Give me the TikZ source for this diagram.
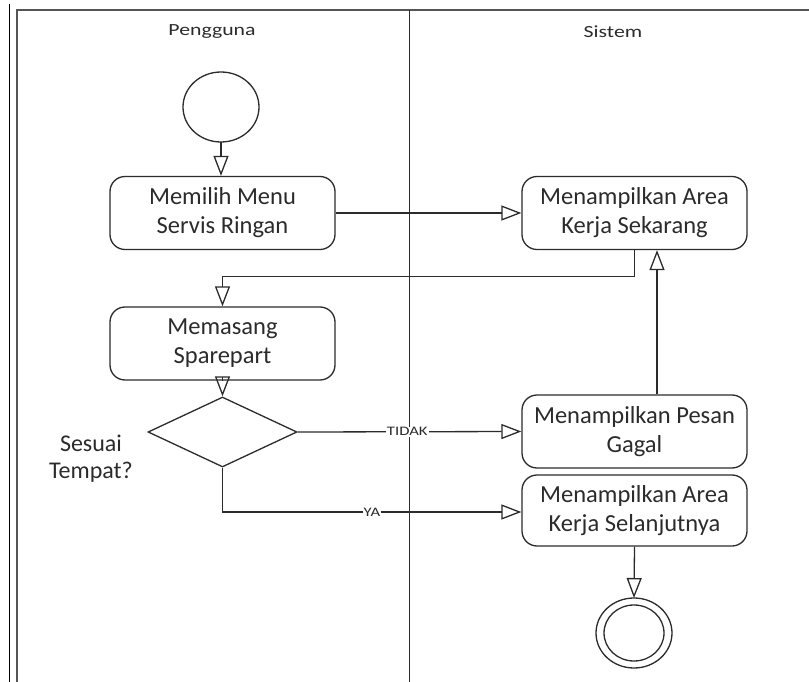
\documentclass[tikz,border=0pt]{standalone}
\usepackage{fontspec}
\setmainfont{Carlito}
\usetikzlibrary{arrows.meta,shapes.geometric}

\definecolor{ink}{HTML}{2B2B2B}
\definecolor{framegray}{HTML}{555555}

\newfontfamily\widefont[FakeStretch=1.28]{Carlito}

\tikzset{
  act/.style={draw=ink, line width=1.3pt, rounded corners=15pt, minimum width=225pt,
    minimum height=73pt, align=center, inner sep=0pt,
    font=\fontsize{24.5}{29}\selectfont, text=ink},
  flow/.style={draw=ink, line width=1.3pt,
    -{Triangle[open, length=20pt, width=15pt, line width=1.3pt]}},
  lanetitle/.style={font=\widefont\fontsize{17}{20}\selectfont, text=ink},
  guard/.style={font=\widefont\fontsize{13}{15}\selectfont, fill=white, inner sep=1pt, text=ink},
}

\begin{document}
\begin{tikzpicture}[x=1pt, y=-1pt]
  \useasboundingbox (0,0) rectangle (809,682);

  % swimlane frame
  \draw[black, line width=1pt] (9.5,4) -- (9.5,682);
  \draw[framegray, line width=2pt] (16.5,682) -- (16.5,10.5) -- (809,10.5);
  \draw[ink, line width=1.3pt] (409.5,10.5) -- (409.5,682);
  \node[lanetitle] (laneA) at (212,32) {Pengguna};
  \node[lanetitle] (laneB) at (613,32) {Sistem};

  % initial node
  \draw[ink, line width=1.3pt] (221,107) ellipse [x radius=38, y radius=35];
  \coordinate (start) at (221,142);

  % activities
  \node[act] (pilih) at (222.5,213) {Memilih Menu\\Servis Ringan};
  \node[act] (area) at (634.5,213) {Menampilkan Area\\Kerja Sekarang};
  \node[act] (pasang) at (222.5,343.5) {Memasang\\Sparepart};
  \node[draw=ink, line width=1.3pt, diamond, minimum width=149pt, minimum height=70pt,
        inner sep=0pt, aspect=2.13] (cek) at (222.5,432) {};
  \node[font=\fontsize{24}{27}\selectfont, text=ink, align=center] (cekText) at (91,459) {Sesuai\\Tempat?};
  \node[act] (gagal) at (634.5,431.5) {Menampilkan Pesan\\Gagal};
  \node[act, minimum height=71pt] (lanjut) at (634.5,510.5) {Menampilkan Area\\Kerja Selanjutnya};

  % final node
  \draw[ink, line width=1.3pt] (634,633) ellipse [x radius=38, y radius=35];
  \draw[ink, line width=1.3pt] (634,633) ellipse [x radius=30, y radius=28];
  \coordinate (stop) at (634,598);

  % control flows
  \draw[flow] (start) -- (pilih.north -| start);
  \draw[flow] (pilih.east) -- (area.west);
  \draw[flow] (area.south) -- ++(0,26) -| (pasang.north);
  \draw[flow] ([xshift=22.5pt]gagal.north) -- ([xshift=22.5pt]area.south);
  \draw[flow] (pasang.south) -- (cek.north);
  \draw[flow] (cek.east) -- node[guard, pos=0.49] {TIDAK} (gagal.west);
  \draw[flow] (cek.south) |- node[guard, pos=0.75] {YA} ([yshift=-1.5pt]lanjut.west);
  \draw[flow] (lanjut.south) -- (stop);
\end{tikzpicture}
\end{document}
